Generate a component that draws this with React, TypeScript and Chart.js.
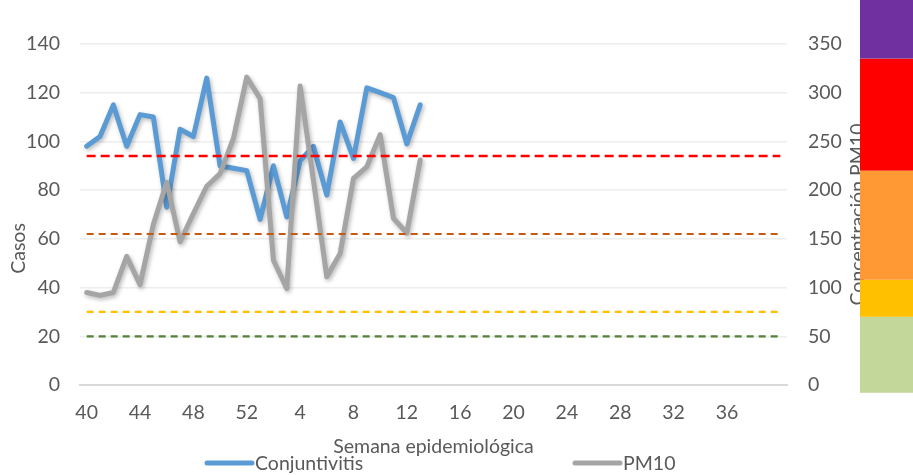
import React, { useEffect, useRef } from "react";
import { Chart, registerables } from "chart.js";

Chart.register(...registerables);

// Epidemiological weeks (40 of one year through 40 of the next)
const weekLabels = [
  "40", "41", "42", "43", "44", "45", "46", "47", "48", "49", "50", "51", "52",
  "1", "2", "3", "4", "5", "6", "7", "8", "9", "10", "11", "12", "13", "14", "15",
  "16", "17", "18", "19", "20", "21", "22", "23", "24", "25", "26", "27", "28",
  "29", "30", "31", "32", "33", "34", "35", "36", "37", "38", "39", "40",
];

// Casos de conjuntivitis (left axis)
const conjuntivitis = [
  98, 102, 115, 98, 111, 110, 73, 105, 102, 126, 90, 89, 88,
  68, 90, 69, 92, 98, 78, 108, 93, 122, 120, 118, 99, 115,
];

// Concentración PM10 (right axis)
const pm10 = [
  95, 92, 95, 132, 103, 165, 208, 147, 176, 204, 217, 253, 316,
  294, 128, 99, 307, 210, 111, 135, 212, 224, 257, 171, 156, 231,
];

// Reference thresholds on the PM10 axis
const thresholdValues = [235, 155, 75, 50];
const thresholdColors = ["#FF0000", "#C55A11", "#FFC000", "#538135"];
const thresholdDash = [[9, 5], [7, 5], [7, 5], [7, 5]];

// Colour scale bar at the right (PM10 band limits)
const bandLimits = [-8, 70, 108, 220, 335, 420];
const bandColors = ["#C4D79B", "#FFC000", "#FF9933", "#FF0000", "#7030A0"];

const FONT = "Lato, 'Open Sans', sans-serif";
const TEXT = "#595959";
const FS = 19.5;

export default function App() {
  const ref = useRef<HTMLCanvasElement | null>(null);

  useEffect(() => {
    document.body.style.margin = "0";
    const canvas = ref.current;
    if (!canvas) return;

    const decor = {
      id: "decor",
      beforeDatasetDraw(chart: any, args: any) {
        if (args.index < 2) {
          const ctx = chart.ctx;
          ctx.save();
          ctx.shadowColor = "rgba(0,0,0,0.28)";
          ctx.shadowBlur = 4;
          ctx.shadowOffsetX = 1.5;
          ctx.shadowOffsetY = 2;
        }
      },
      afterDatasetDraw(chart: any, args: any) {
        if (args.index < 2) chart.ctx.restore();
      },
      afterDraw(chart: any) {
        const ctx = chart.ctx;
        const area = chart.chartArea;
        const y1 = chart.scales.y1;
        const midY = (area.top + area.bottom) / 2;
        ctx.save();
        ctx.fillStyle = TEXT;
        ctx.font = `${FS}px ${FONT}`;
        ctx.textAlign = "center";
        ctx.textBaseline = "middle";
        // left axis title
        ctx.save();
        ctx.translate(19, midY + 34);
        ctx.rotate(-Math.PI / 2);
        ctx.fillText("Casos", 0, 0);
        ctx.restore();
        // right axis title
        ctx.save();
        ctx.translate(858, midY);
        ctx.rotate(-Math.PI / 2);
        ctx.fillText("Concentración PM10", 0, 0);
        ctx.restore();

        // colour bands
        const bx = 860;
        for (let i = 0; i < bandColors.length; i++) {
          const yTop = Math.max(0, y1.getPixelForValue(bandLimits[i + 1]));
          const yBot = y1.getPixelForValue(bandLimits[i]);
          ctx.fillStyle = bandColors[i];
          ctx.fillRect(bx, yTop, chart.width - bx, yBot - yTop);
        }

        // legend
        const ly = 463;
        const items = [
          { x: 207, w: 45, color: "#5B9BD5", text: "Conjuntivitis" },
          { x: 575, w: 45, color: "#A5A5A5", text: "PM10" },
        ];
        ctx.textAlign = "left";
        for (const it of items) {
          ctx.strokeStyle = it.color;
          ctx.lineWidth = 5;
          ctx.lineCap = "round";
          ctx.beginPath();
          ctx.moveTo(it.x, ly);
          ctx.lineTo(it.x + it.w, ly);
          ctx.stroke();
          ctx.fillStyle = TEXT;
          ctx.fillText(it.text, it.x + it.w + 3, ly + 1);
        }
        ctx.restore();
      },
    };

    const datasets: any[] = [
      {
        label: "Conjuntivitis",
        data: conjuntivitis,
        yAxisID: "y",
        borderColor: "#5B9BD5",
        backgroundColor: "#5B9BD5",
        borderWidth: 5,
        pointRadius: 0,
        tension: 0,
        borderCapStyle: "round",
        borderJoinStyle: "round",
        order: 2,
      },
      {
        label: "PM10",
        data: pm10,
        yAxisID: "y1",
        borderColor: "#A5A5A5",
        backgroundColor: "#A5A5A5",
        borderWidth: 5,
        pointRadius: 0,
        tension: 0,
        borderCapStyle: "round",
        borderJoinStyle: "round",
        order: 1,
      },
      ...thresholdValues.map((v, i) => ({
        label: "umbral " + v,
        data: weekLabels.map(() => v),
        yAxisID: "y1",
        borderColor: thresholdColors[i],
        borderWidth: i === 0 ? 2.5 : 2.2,
        borderDash: thresholdDash[i],
        pointRadius: 0,
        tension: 0,
        order: 0,
      })),
    ];

    const chart = new Chart(canvas, {
      type: "line",
      data: { labels: weekLabels, datasets },
      plugins: [decor],
      options: {
        animation: false,
        responsive: false,
        maintainAspectRatio: false,
        layout: { padding: { top: 44, left: 0, right: 0, bottom: 0 } },
        plugins: {
          legend: { display: false },
          tooltip: { enabled: false },
        },
        scales: {
          x: {
            type: "category",
            offset: true,
            grid: { display: false, drawTicks: false },
            border: { display: true, color: "#D9D9D9", width: 2 },
            ticks: {
              autoSkip: false,
              maxRotation: 0,
              minRotation: 0,
              padding: 16,
              color: TEXT,
              font: { family: FONT, size: FS },
              callback: (_v: any, i: number) =>
                i % 4 === 0 && i < 52 ? weekLabels[i] : "",
            },
            title: {
              display: true,
              text: "Semana epidemiológica",
              color: TEXT,
              font: { family: FONT, size: FS },
              padding: { top: 0, bottom: 17 },
            },
            afterFit: (s: any) => {
              s.height = 90;
            },
          },
          y: {
            position: "left",
            min: 0,
            max: 140,
            ticks: {
              stepSize: 20,
              padding: 20,
              color: TEXT,
              font: { family: FONT, size: FS },
            },
            grid: {
              drawTicks: false,
              color: (c: any) => (c.tick && c.tick.value === 0 ? "rgba(0,0,0,0)" : "#EEEEEE"),
              lineWidth: 1.5,
            },
            border: { display: false },
            afterFit: (s: any) => {
              s.width = 80;
            },
          },
          y1: {
            position: "right",
            min: 0,
            max: 350,
            ticks: {
              stepSize: 50,
              padding: 21,
              color: TEXT,
              font: { family: FONT, size: FS },
            },
            grid: { display: false, drawTicks: false },
            border: { display: false },
            afterFit: (s: any) => {
              s.width = 126;
            },
          },
        },
      } as any,
    });

    return () => chart.destroy();
  }, []);

  return (
    <div style={{ width: 913, height: 475, position: "relative", overflow: "hidden", background: "#fff" }}>
      <canvas ref={ref} width={913} height={475} style={{ display: "block" }} />
    </div>
  );
}
